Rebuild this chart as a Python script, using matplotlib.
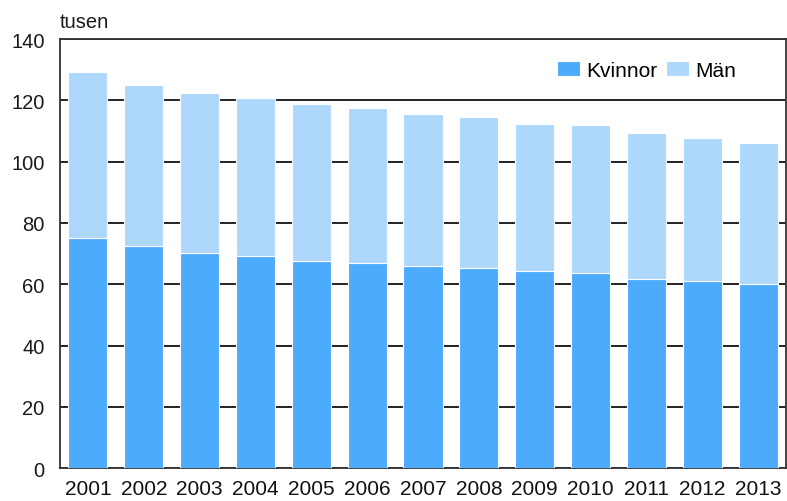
import matplotlib
matplotlib.use("Agg")
import matplotlib.pyplot as plt
import numpy as np

years = ["2001", "2002", "2003", "2004", "2005", "2006", "2007",
         "2008", "2009", "2010", "2011", "2012", "2013"]
kvinnor = [75.0, 72.4, 70.2, 69.1, 67.6, 67.0, 66.0, 65.3, 64.4, 63.8, 61.7, 61.2, 60.2]
man = [54.2, 52.6, 52.2, 51.7, 51.1, 50.6, 49.6, 49.2, 48.0, 48.1, 47.6, 46.4, 45.9]
yticks = [0, 20, 40, 60, 80, 100, 120, 140]

plt.rcParams['font.family'] = ['Liberation Sans', 'DejaVu Sans']

W, H = 787, 502
fig = plt.figure(figsize=(W / 100, H / 100), dpi=100)
ax = fig.add_axes([60 / W, (H - 469.3) / H, (786 - 60) / W, (469.3 - 40) / H])

x = np.arange(len(years))
c_k = "#4DABFC"
c_m = "#ADD8FB"
ax.bar(x, kvinnor, width=0.70, color=c_k, edgecolor="white", linewidth=0.8,
       label="Kvinnor", zorder=3)
ax.bar(x, man, width=0.70, bottom=kvinnor, color=c_m, edgecolor="white",
       linewidth=0.8, label="Män", zorder=3)

ax.set_xlim(-0.5, len(years) - 0.5)
ax.set_ylim(0, 140)
ax.set_yticks(yticks)
ax.set_yticklabels([str(v) for v in yticks], fontsize=14.5, color="#1a1a1a")
ax.set_xticks(x)
ax.set_xticklabels(years, fontsize=15, color="#111111")
ax.tick_params(axis="both", length=0)
ax.tick_params(axis="y", pad=11)
ax.tick_params(axis="x", pad=8)

ax.yaxis.grid(True, color="#111111", linewidth=1.3, zorder=0)
ax.set_axisbelow(True)
for s in ax.spines.values():
    s.set_color("#333333")
    s.set_linewidth(1.3)

fig.text(60 / W, (H - 28) / H, "tusen", fontsize=14.5, color="#1a1a1a",
         ha="left", va="baseline")

leg = ax.legend(loc="upper right", bbox_to_anchor=((736 - 60) / (786 - 60), (469.3 - 62) / (469.3 - 40)),
                ncol=2, frameon=False, fontsize=15, handlelength=1.1, handleheight=0.7,
                handletextpad=0.3, columnspacing=0.4, borderaxespad=0, borderpad=0)

fig.savefig("out.png", dpi=100)
